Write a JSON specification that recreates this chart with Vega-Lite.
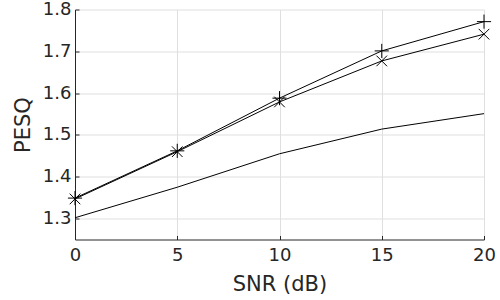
{
  "$schema": "https://vega.github.io/schema/vega-lite/v6.json",
  "width": 409,
  "height": 230,
  "autosize": {"type": "none"},
  "padding": {"left": 75, "top": 9.5, "right": 16, "bottom": 60},
  "background": "white",
  "config": {
    "font": "DejaVu Sans",
    "view": {"stroke": null},
    "axis": {
      "labelFont": "DejaVu Sans",
      "titleFont": "DejaVu Sans",
      "labelFontSize": 18,
      "titleFontSize": 21,
      "titleFontWeight": "normal",
      "labelColor": "#262626",
      "titleColor": "#262626",
      "domainColor": "#262626",
      "tickColor": "#262626",
      "gridColor": "#dfdfdf",
      "gridOpacity": 1,
      "domainWidth": 1,
      "tickSize": -4,
      "labelFlush": false
    }
  },
  "data": {
    "values": [
      {"snr": 0, "pesq": 1.349, "series": "A"},
      {"snr": 5, "pesq": 1.462, "series": "A"},
      {"snr": 10, "pesq": 1.588, "series": "A"},
      {"snr": 15, "pesq": 1.701, "series": "A"},
      {"snr": 20, "pesq": 1.771, "series": "A"},
      {"snr": 0, "pesq": 1.347, "series": "B"},
      {"snr": 5, "pesq": 1.460, "series": "B"},
      {"snr": 10, "pesq": 1.579, "series": "B"},
      {"snr": 15, "pesq": 1.677, "series": "B"},
      {"snr": 20, "pesq": 1.741, "series": "B"},
      {"snr": 0, "pesq": 1.302, "series": "C"},
      {"snr": 5, "pesq": 1.375, "series": "C"},
      {"snr": 10, "pesq": 1.455, "series": "C"},
      {"snr": 15, "pesq": 1.514, "series": "C"},
      {"snr": 20, "pesq": 1.551, "series": "C"}
    ]
  },
  "encoding": {
    "x": {
      "field": "snr", "type": "quantitative",
      "scale": {"domain": [0, 20], "nice": false, "zero": false},
      "axis": {"title": "SNR (dB)", "values": [0, 5, 10, 15, 20], "labelPadding": 11, "titlePadding": 9}
    },
    "y": {
      "field": "pesq", "type": "quantitative",
      "scale": {"domain": [1.25, 1.8], "nice": false, "zero": false},
      "axis": {"title": "PESQ", "values": [1.3, 1.4, 1.5, 1.6, 1.7, 1.8], "format": ".1f", "labelPadding": 8, "titlePadding": 9}
    }
  },
  "layer": [
    {
      "mark": {"type": "line", "color": "black", "strokeWidth": 1},
      "encoding": {"detail": {"field": "series"}}
    },
    {
      "transform": [{"filter": "datum.series !== 'C'"}],
      "mark": {"type": "point", "color": "black", "filled": false, "strokeWidth": 1, "opacity": 1},
      "encoding": {
        "shape": {
          "field": "series", "type": "nominal", "legend": null,
          "scale": {"domain": ["A", "B"], "range": ["M-1,0H1M0,-1V1", "M-0.75,-0.75L0.75,0.75M-0.75,0.75L0.75,-0.75"]}
        },
        "size": {"value": 200}
      }
    }
  ]
}
